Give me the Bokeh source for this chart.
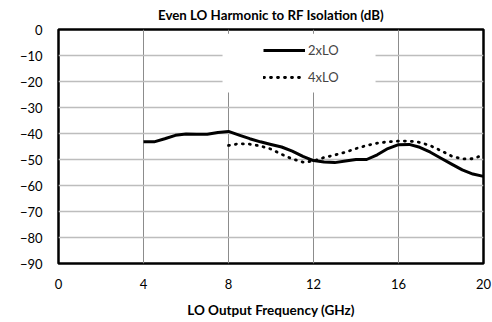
from bokeh.plotting import figure
from bokeh.models import Legend, LegendItem, BoxAnnotation, FixedTicker, Range1d
from bokeh.embed import file_html
from bokeh.resources import INLINE

# Data
freq_2x = [4.0, 4.5, 5.0, 5.5, 6.0, 6.5, 7.0, 7.5, 8.0, 8.5, 9.0, 9.5, 10.0, 10.5,
           11.0, 11.5, 12.0, 12.5, 13.0, 13.5, 14.0, 14.5, 15.0, 15.5, 16.0, 16.5,
           17.0, 17.5, 18.0, 18.5, 19.0, 19.5, 20.0]
iso_2x = [-43.2, -43.2, -42.0, -40.7, -40.2, -40.3, -40.3, -39.6, -39.2, -40.6, -42.0,
          -43.2, -44.2, -45.2, -46.8, -48.8, -50.4, -51.0, -51.2, -50.6, -50.0, -50.0,
          -48.2, -45.8, -44.3, -44.2, -45.3, -47.2, -49.5, -51.8, -54.0, -55.6, -56.5]

freq_4x = [8.0, 8.5, 9.0, 9.5, 10.0, 10.5, 11.0, 11.5, 12.0, 12.5, 13.0, 13.5, 14.0,
           14.5, 15.0, 15.5, 16.0, 16.5, 17.0, 17.5, 18.0, 18.5, 19.0, 19.5, 20.0]
iso_4x = [-44.6, -43.9, -44.1, -44.8, -46.0, -48.0, -49.8, -51.0, -50.6, -49.2, -48.3,
          -47.2, -45.8, -44.6, -43.7, -43.2, -42.9, -42.9, -43.4, -44.7, -46.6, -48.7,
          -49.8, -49.7, -48.2]

x_ticks = [0, 4, 8, 12, 16, 20]
y_ticks = [0, -10, -20, -30, -40, -50, -60, -70, -80, -90]
series_names = ["2xLO", "4xLO"]

title_text = "Even LO Harmonic to RF Isolation (dB)"
x_label = "LO Output Frequency (GHz)"

FONT = "Lato"

p = figure(frame_width=425, frame_height=234, output_backend="svg", toolbar_location=None,
           x_range=Range1d(0, 20), y_range=Range1d(-90, 0),
           min_border_left=58, min_border_right=9, min_border_top=29, min_border_bottom=59)

p.title.text = title_text
p.title.align = "center"
p.title.vertical_align = "top"
p.title.text_font = FONT
p.title.text_font_size = "13.3px"
p.title.text_font_style = "bold"
p.title.text_color = "black"
p.title.offset = 0

p.outline_line_color = "black"
p.outline_line_width = 2.5
p.outline_line_alpha = 1

p.xaxis.ticker = FixedTicker(ticks=x_ticks)
p.yaxis.ticker = FixedTicker(ticks=y_ticks)
for ax in (p.xaxis[0], p.yaxis[0]):
    ax.axis_line_color = None
    ax.major_tick_line_color = None
    ax.minor_tick_line_color = None
    ax.major_tick_in = 0
    ax.major_tick_out = 0
    ax.major_label_text_font = FONT
    ax.major_label_text_font_size = "13px"
    ax.major_label_text_color = "black"

p.yaxis.major_label_standoff = 16
p.xaxis.major_label_standoff = 15
p.xaxis.axis_label = x_label
p.xaxis.axis_label_text_font = FONT
p.xaxis.axis_label_text_font_size = "13.5px"
p.xaxis.axis_label_text_font_style = "bold"
p.xaxis.axis_label_text_color = "black"
p.xaxis.axis_label_standoff = 10

p.xgrid.grid_line_color = "#8c8c8c"
p.xgrid.grid_line_width = 1
p.ygrid.grid_line_color = "#bdbdbd"
p.ygrid.grid_line_width = 1.6

# white legend box covering the gridlines (as in the reference)
p.add_layout(BoxAnnotation(left=7.72, right=14.92, top=-1.6, bottom=-24.2,
                           fill_color="white", fill_alpha=1, line_color=None,
                           level="underlay"))

r2 = p.line(freq_2x, iso_2x, line_color="black", line_width=3, line_join="round")
r4 = p.line(freq_4x, iso_4x, line_color="black", line_width=2.8, line_dash="1 6",
            line_cap="round")

legend = Legend(items=[LegendItem(label=series_names[0], renderers=[r2]),
                       LegendItem(label=series_names[1], renderers=[r4])],
                location=(205, 176), padding=0, margin=0, spacing=7,
                glyph_width=42, glyph_height=20, label_height=20, label_standoff=3,
                label_text_font=FONT, label_text_font_size="13px",
                background_fill_alpha=0, border_line_color=None)
p.add_layout(legend, "center")

open("out.html", "w").write(file_html(p, INLINE))
